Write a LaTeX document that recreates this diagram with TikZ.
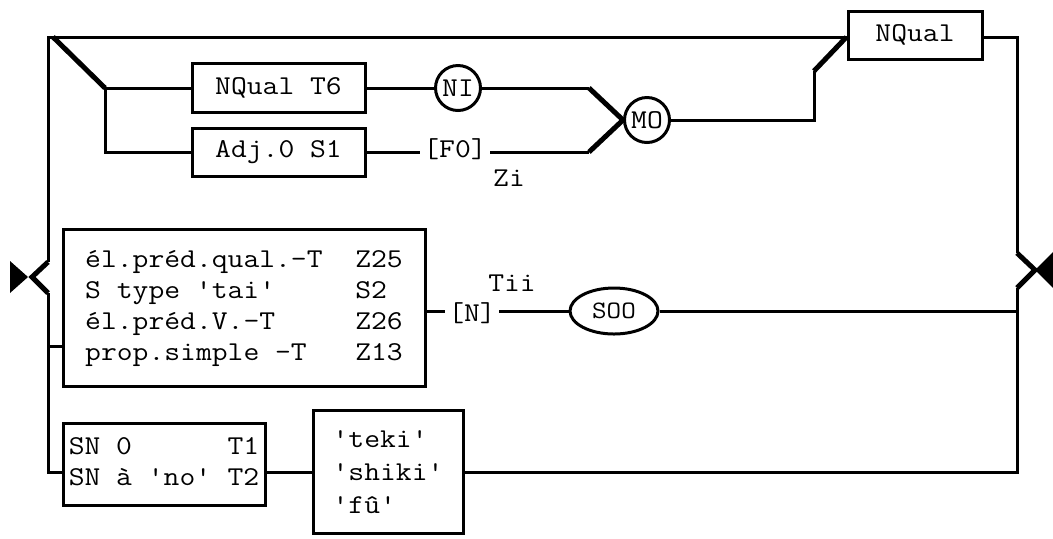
\documentclass[tikz,border=0pt]{standalone}
\usepackage{fontspec}
\setmonofont{Latin Modern Mono}[FakeStretch=1.13]
\usepackage{tikz}
\usetikzlibrary{positioning,shapes.geometric}

\begin{document}
\begin{tikzpicture}[
  x=0.5pt, y=-0.5pt, line width=1.5pt,
  font=\ttfamily\fontsize{13.6}{15.5}\selectfont,
  box/.style={draw, rectangle, inner sep=0pt, align=left},
  ring/.style={draw, circle, minimum size=22.5pt, inner sep=0pt},
  pill/.style={draw, ellipse, minimum width=44pt, minimum height=23pt, inner sep=0pt,
    font=\ttfamily\fontsize{12.5}{14}\selectfont},
  lbl/.style={inner sep=1pt},
  heavy/.style={line width=2.5pt}]
  \useasboundingbox (0,0) rectangle (1053,538);
  \node[box, minimum width=86.5pt, minimum height=24.5pt] (nqt) at (278.5,88) {NQual T6};
  \node[box, minimum width=86.5pt, minimum height=24pt] (adj) at (278.5,152) {Adj.0 S1};
  \node[ring] (ni) at (458,88) {NI};
  \node[ring] (mo) at (647,120) {MO};
  \node[lbl] (f0) at (455,149) {[F0]};
  \node (zi) at (509,178) {Zi};
  \node[box, minimum width=67pt, minimum height=24pt] (nq) at (915,35) {NQual};
  \node[box, minimum width=181pt, minimum height=78.5pt] (pred) at (244,307.5)
    {\begin{tabular}{@{}l@{\hspace{1.2em}}l@{}}
      él.préd.qual.-T & Z25\\
      S type 'tai' & S2\\
      él.préd.V.-T & Z26\\
      prop.simple -T & Z13
    \end{tabular}};
  \node[lbl] (n) at (472,313) {[N]};
  \node (tii) at (512,283) {Tii};
  \node[pill] (soo) at (614,311) {SOO};
  \node[box, minimum width=101pt, minimum height=41pt] (sn) at (164,464)
    {\begin{tabular}{@{}l@{\hspace{0.6em}}l@{}}
      SN 0 & T1\\
      SN à 'no' & T2
    \end{tabular}};
  \node[box, minimum width=75pt, minimum height=61.5pt,
    font=\ttfamily\fontsize{13.6}{16.5}\selectfont] (suf) at (388,472) {'teki'\\'shiki'\\'fû'};
  \coordinate (tl) at (48,37);
  \coordinate (bl) at (48,472);
  \coordinate (tr) at (1017,37);
  \coordinate (br) at (1017,472);
  \coordinate (split) at (53,37);
  \coordinate (fork) at (105,88);
  \coordinate (lup) at (48,262);
  \coordinate (ltip) at (32,277);
  \coordinate (llo) at (48,293);
  \coordinate (lmid) at (48,346);
  \coordinate (rup) at (1017,253);
  \coordinate (rtip) at (1035,270);
  \coordinate (rlo) at (1017,288);
  \coordinate (nij) at (589,88);
  \coordinate (f0j) at (589,152);
  \coordinate (moj) at (814,120);
  \coordinate (moup) at (814,71);
  \draw (lup) -- (tl) -- (tl -| nq.west);
  \draw[heavy] (split) -- (fork);
  \draw (nqt.west) -- (fork) |- (adj.west);
  \draw (nqt) -- (ni);
  \draw (ni) -- (nij);
  \draw[heavy] (nij) -- (mo.west);
  \draw (adj) -- (adj -| f0.west);
  \draw (adj -| f0.east) -- (f0j);
  \draw[heavy] (f0j) -- (mo.west);
  \draw (mo) -- (moj) -- (moup);
  \draw[heavy] (moup) -- (tl -| nq.west);
  \draw (tr -| nq.east) -- (tr) -- (rup);
  \draw[heavy] (rup) -- (rtip) -- (rlo);
  \draw (rlo) -- (br) -- (suf.east);
  \draw[heavy] (lup) -- (ltip) -- (llo);
  \draw (llo) -- (bl) -- (bl -| sn.west);
  \draw (lmid) -- (lmid -| pred.west);
  \draw (pred.east |- soo) -- (soo -| n.west);
  \draw (soo -| n.east) -- (soo);
  \draw (soo) -- (soo -| br);
  \draw (sn.east |- suf) -- (suf);
  \fill (10,261) -- (28,277) -- (10,293) -- cycle;
  \fill (1053,252) -- (1035,270) -- (1053,288) -- cycle;
\end{tikzpicture}
\end{document}
